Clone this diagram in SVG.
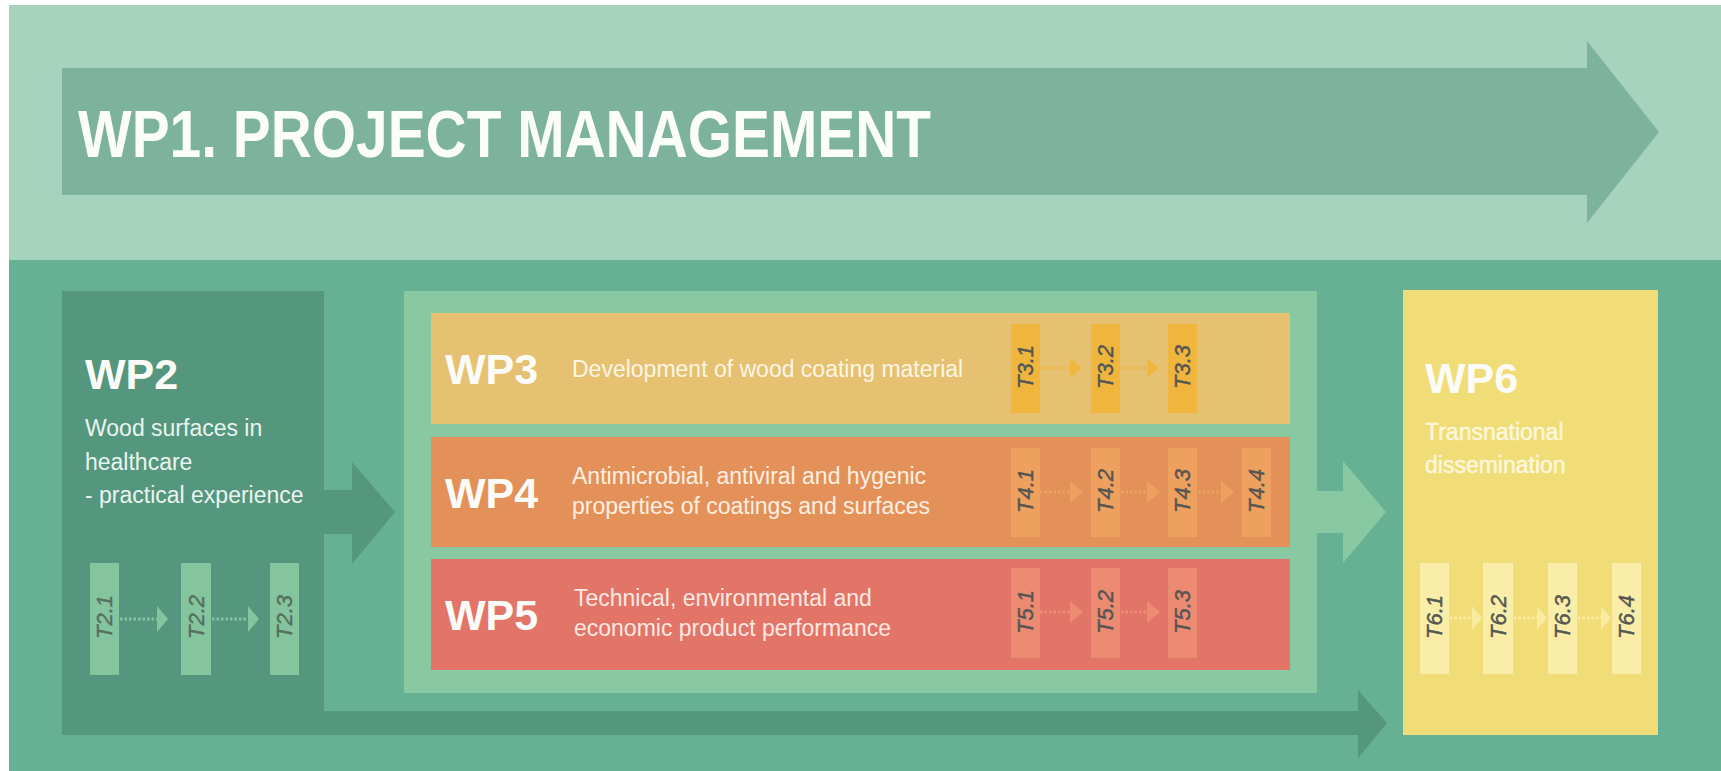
<svg xmlns="http://www.w3.org/2000/svg" width="1721" height="771" viewBox="0 0 1721 771">
  <style>
    .wp { font-family: "Liberation Sans", Arial, sans-serif; font-weight: bold; font-size: 43px; fill: #fbfbf7; }
    .desc { font-family: "Liberation Sans", Arial, sans-serif; font-size: 23px; }
    .task { font-family: "Liberation Sans", Arial, sans-serif; font-style: italic; font-size: 22px; fill: #555553; stroke: #555553; stroke-width: 0.45; text-anchor: middle; dominant-baseline: central; }
    .dots { fill: none; stroke-width: 3; stroke-dasharray: 2.5 2; }
  </style>

  <!-- background bands -->
  <rect x="0" y="0" width="1721" height="771" fill="#ffffff"/>
  <rect x="9" y="5" width="1712" height="255" fill="#a7d2be"/>
  <rect x="9" y="260" width="1712" height="511" fill="#66b094"/>

  <!-- WP1: management arrow across the whole project -->
  <g id="wp1">
    <path d="M62 68 H1587 V41 L1659 132 L1587 223 V195 H62 Z" fill="#7db39e"/>
    <text x="78" y="157" font-family="'Liberation Sans', Arial, sans-serif" font-weight="bold" font-size="67" fill="#fbfdfb" textLength="853" lengthAdjust="spacingAndGlyphs">WP1. PROJECT MANAGEMENT</text>
  </g>

  <!-- WP2 -->
  <g id="wp2">
    <rect x="62" y="291" width="262" height="444" fill="#55967e"/>
    <text class="wp" x="85" y="389">WP2</text>
    <text class="desc" fill="#e9f4ee">
      <tspan x="85" y="436">Wood surfaces in</tspan>
      <tspan x="85" y="470">healthcare</tspan>
      <tspan x="85" y="503">- practical experience</tspan>
    </text>
    <g fill="#85c59e">
      <rect x="90" y="563" width="29" height="112"/>
      <rect x="181" y="563" width="30" height="112"/>
      <rect x="270" y="563" width="29" height="112"/>
    </g>
    <g style="fill:#56705f;stroke:#56705f">
      <text class="task" style="fill:inherit;stroke:inherit" transform="translate(104.5 617) rotate(-90)">T2.1</text>
      <text class="task" style="fill:inherit;stroke:inherit" transform="translate(196 617) rotate(-90)">T2.2</text>
      <text class="task" style="fill:inherit;stroke:inherit" transform="translate(284.5 617) rotate(-90)">T2.3</text>
    </g>
  </g>

  <!-- block holding WP3, WP4 and WP5 -->
  <g id="wp3-5">
    <rect x="404" y="291" width="913" height="402" fill="#88c9a2"/>
  </g>

  <!-- WP3 -->
  <g id="wp3">
    <rect x="431" y="313" width="859" height="111" fill="#e6c171"/>
    <text class="wp" x="445" y="384">WP3</text>
    <text class="desc" x="572" y="377" fill="#fdf6e4">Development of wood coating material</text>
    <g fill="#efb53d">
      <rect x="1011" y="324" width="29" height="89"/>
      <rect x="1091" y="324" width="29" height="89"/>
      <rect x="1168" y="324" width="29" height="89"/>
    </g>
    <text class="task" transform="translate(1025.5 367) rotate(-90)">T3.1</text>
    <text class="task" transform="translate(1105.5 367) rotate(-90)">T3.2</text>
    <text class="task" transform="translate(1182.5 367) rotate(-90)">T3.3</text>
  </g>

  <!-- WP4 -->
  <g id="wp4">
    <rect x="431" y="437" width="859" height="110" fill="#e49159"/>
    <text class="wp" x="445" y="508">WP4</text>
    <text class="desc" fill="#fcefe2">
      <tspan x="572" y="484">Antimicrobial, antiviral and hygenic</tspan>
      <tspan x="572" y="514">properties of coatings and surfaces</tspan>
    </text>
    <g fill="#eea05e">
      <rect x="1011" y="448" width="29" height="89"/>
      <rect x="1091" y="448" width="29" height="89"/>
      <rect x="1168" y="448" width="29" height="89"/>
      <rect x="1242" y="448" width="29" height="89"/>
    </g>
    <text class="task" transform="translate(1025.5 491) rotate(-90)">T4.1</text>
    <text class="task" transform="translate(1105.5 491) rotate(-90)">T4.2</text>
    <text class="task" transform="translate(1182.5 491) rotate(-90)">T4.3</text>
    <text class="task" transform="translate(1256.5 491) rotate(-90)">T4.4</text>
  </g>

  <!-- WP5 -->
  <g id="wp5">
    <rect x="431" y="559" width="859" height="111" fill="#e27568"/>
    <text class="wp" x="445" y="630">WP5</text>
    <text class="desc" fill="#fce8e2">
      <tspan x="574" y="606">Technical, environmental and</tspan>
      <tspan x="574" y="636">economic product performance</tspan>
    </text>
    <g fill="#ec8a72">
      <rect x="1011" y="568" width="29" height="90"/>
      <rect x="1091" y="568" width="29" height="90"/>
      <rect x="1168" y="568" width="29" height="90"/>
    </g>
    <text class="task" transform="translate(1025.5 612) rotate(-90)">T5.1</text>
    <text class="task" transform="translate(1105.5 612) rotate(-90)">T5.2</text>
    <text class="task" transform="translate(1182.5 612) rotate(-90)">T5.3</text>
  </g>

  <!-- WP6 -->
  <g id="wp6">
    <rect x="1403" y="290" width="255" height="445" fill="#f0dd77"/>
    <text class="wp" x="1425" y="393">WP6</text>
    <text class="desc" font-size="24" fill="#fdf7dc" stroke="#fdf7dc" stroke-width="0.5">
      <tspan x="1425" y="440">Transnational</tspan>
      <tspan x="1425" y="473">dissemination</tspan>
    </text>
    <g fill="#f9eda8">
      <rect x="1420" y="563" width="29" height="111"/>
      <rect x="1483" y="563" width="30" height="111"/>
      <rect x="1548" y="563" width="29" height="111"/>
      <rect x="1612" y="563" width="29" height="111"/>
    </g>
    <text class="task" transform="translate(1434.5 617) rotate(-90)">T6.1</text>
    <text class="task" transform="translate(1498 617) rotate(-90)">T6.2</text>
    <text class="task" transform="translate(1562.5 617) rotate(-90)">T6.3</text>
    <text class="task" transform="translate(1626.5 617) rotate(-90)">T6.4</text>
  </g>

  <!-- flows between work packages and between tasks -->
  <g id="connectors">
    <!-- WP2 into the WP3-5 block -->
    <path d="M324 490 H352 V462 L395 512 L352 564 V534 H324 Z" fill="#55967e"/>
    <!-- WP3-5 block into WP6 -->
    <path d="M1317 491 H1343 V461 L1386 512 L1343 563 V533 H1317 Z" fill="#88c9a2"/>
    <!-- WP2 directly into WP6 along the bottom -->
    <path d="M324 711 H1358 V690 L1387 723 L1358 758 V735 H324 Z" fill="#55967e"/>

    <!-- task sequences -->
    <g id="t2-flow" stroke="#85c59e" fill="#85c59e">
      <line class="dots" x1="120" y1="619" x2="157" y2="619"/>
      <path d="M157 606 L168 619 L157 632 Z" stroke="none"/>
      <line class="dots" x1="212" y1="619" x2="248" y2="619"/>
      <path d="M248 606 L259 619 L248 632 Z" stroke="none"/>
    </g>
    <g id="t3-flow" stroke="#efb740" fill="#efb740">
      <line class="dots" x1="1040" y1="368" x2="1070" y2="368"/>
      <path d="M1070 358 L1082 368 L1070 378 Z" stroke="none"/>
      <line class="dots" x1="1121" y1="368" x2="1147" y2="368"/>
      <path d="M1147 358 L1159 368 L1147 378 Z" stroke="none"/>
    </g>
    <g id="t4-flow" stroke="#efa061" fill="#efa061">
      <line class="dots" x1="1040" y1="492" x2="1070" y2="492"/>
      <path d="M1070 481 L1083 492 L1070 503 Z" stroke="none"/>
      <line class="dots" x1="1121" y1="492" x2="1147" y2="492"/>
      <path d="M1147 481 L1160 492 L1147 503 Z" stroke="none"/>
      <line class="dots" x1="1198" y1="492" x2="1221" y2="492"/>
      <path d="M1221 481 L1234 492 L1221 503 Z" stroke="none"/>
    </g>
    <g id="t5-flow" stroke="#ee8c72" fill="#ee8c72">
      <line class="dots" x1="1040" y1="612" x2="1070" y2="612"/>
      <path d="M1070 601 L1083 612 L1070 623 Z" stroke="none"/>
      <line class="dots" x1="1121" y1="612" x2="1147" y2="612"/>
      <path d="M1147 601 L1160 612 L1147 623 Z" stroke="none"/>
    </g>
    <g id="t6-flow" stroke="#f9ec9f" fill="#f9ec9f">
      <line class="dots" x1="1450" y1="618" x2="1472" y2="618"/>
      <path d="M1472 606 L1482 618 L1472 630 Z" stroke="none"/>
      <line class="dots" x1="1514" y1="618" x2="1537" y2="618"/>
      <path d="M1537 606 L1547 618 L1537 630 Z" stroke="none"/>
      <line class="dots" x1="1578" y1="618" x2="1601" y2="618"/>
      <path d="M1601 606 L1611 618 L1601 630 Z" stroke="none"/>
    </g>
  </g>
</svg>
